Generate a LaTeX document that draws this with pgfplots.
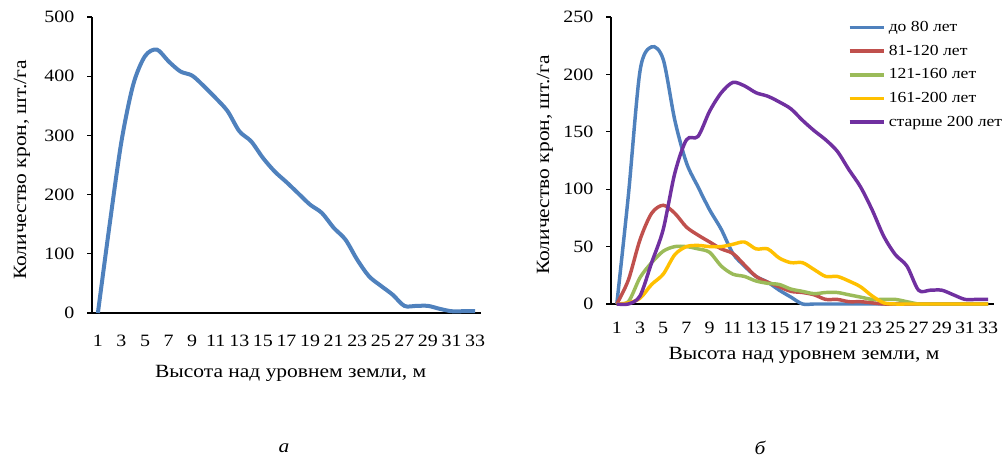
\documentclass[border=0pt]{standalone}
\usepackage{fontspec}
\setmainfont{Liberation Serif}[FakeStretch=1.15]
\usepackage{pgfplots}
\usepackage{pgfplotstable}
\pgfplotsset{compat=1.18}
\definecolor{cblue}{HTML}{4F81BD}
\definecolor{cred}{HTML}{C0504D}
\definecolor{cgreen}{HTML}{9BBB59}
\definecolor{cyellow}{HTML}{FFC000}
\definecolor{cpurple}{HTML}{7030A0}

\pgfplotstableread{
h v
1 0
2 150
3 290
4 386
5 434
6 445
7 425
8 408
9 401
10 383
11 363
12 341
13 307
14 290
15 262
16 239
17 221
18 202
19 183
20 169
21 144
22 124
23 90
24 62
25 46
26 31
27 12
28 12
29 12
30 7
31 3
32 3
33 3
}\lefttable

\pgfplotstableread{
h a b c d e
1 0 0 0 0 0
2 95 21 2 1 0
3 203 56 23 5 7
4 224 79 36 17 36
5 213 86 46 26 65
6 160 79 50 43 114
7 123 67 50 50 143
8 102 60 48 51 146
9 82 54 45 50 168
10 65 48 33 50 184
11 44 44 26 52 193
12 33 34 24 54 190
13 24 24 20 48 184
14 19 19 18 48 181
15 12 15 17 40 176
16 6 11 13 36 170
17 0 10 11 36 160
18 0 8 9 30 151
19 0 4 10 24 143
20 0 4 10 24 133
21 0 2 8 20 117
22 0 2 6 15 102
23 0 1 4 7 82
24 0 0 4 1 59
25 0 0 4 0 43
26 0 0 2 0 33
27 0 0 0 0 12
28 0 0 0 0 12
29 0 0 0 0 12
30 0 0 0 0 8
31 0 0 0 0 4
32 0 0 0 0 4
33 0 0 0 0 4
}\righttable

\pgfplotsset{myaxis/.style={
  scale only axis,
  axis x line*=bottom, axis y line*=left,
  axis line style={black, line width=0.8pt, -},
  xmin=0.5, xmax=33.5,
  xtick={1,3,...,33},
  minor xtick={0.5,1.5,...,33.5},
  xtick style={draw=none},
  minor tick style={black, line width=0.8pt},
  ytick style={black, line width=0.8pt},
  tick align=outside,
  major tick length=3.75pt,
  minor tick length=3.75pt,
  ymin=0,
  clip=false,
  /pgf/number format/assume math mode=true,
  tick label style={font=\fontsize{13}{15}\selectfont},
  every axis plot/.append style={smooth, tension=0.5, no marks},
}}

\begin{document}
\begin{tikzpicture}
\path (0,0) rectangle (756pt,344.25pt);

\begin{axis}[myaxis,
  at={(69pt,109.5pt)}, anchor=south west,
  width=291.75pt, height=222pt,
  ymax=500, ytick={0,100,...,500},
  yticklabel style={xshift=-6pt},
  xticklabel style={yshift=-9pt},
]
\addplot[cblue, line width=3pt] table[x=h, y=v] {\lefttable};
\end{axis}

\begin{axis}[myaxis,
  at={(458.25pt,116.25pt)}, anchor=south west,
  width=287.25pt, height=215.25pt,
  ymax=250, ytick={0,50,...,250},
  yticklabel style={xshift=-6pt},
  xticklabel style={yshift=-6pt},
  legend style={at={(0.618,0.995)}, anchor=north west, draw=none, fill=none,
    font=\fontsize{11.5}{13}\selectfont, row sep=4.6pt, inner sep=0pt,
    /tikz/every even column/.append style={column sep=0pt}},
  legend cell align=left,
  legend image code/.code={\draw[#1, line width=2.6pt] (0pt,0pt) -- (26pt,0pt);},
]
\addplot[cblue, line width=2.6pt] table[x=h, y=a] {\righttable};
\addlegendentry{до 80 лет}
\addplot[cred, line width=2.6pt] table[x=h, y=b] {\righttable};
\addlegendentry{81-120 лет}
\addplot[cgreen, line width=2.6pt] table[x=h, y=c] {\righttable};
\addlegendentry{121-160 лет}
\addplot[cyellow, line width=2.6pt] table[x=h, y=d] {\righttable};
\addlegendentry{161-200 лет}
\addplot[cpurple, line width=2.6pt] table[x=h, y=e] {\righttable};
\addlegendentry{старше 200 лет}
\end{axis}

\node[rotate=90, font=\fontsize{14}{16}\selectfont] at (16.5pt,216.75pt) {Количество крон, шт./га};
\node[rotate=90, font=\fontsize{14}{16}\selectfont] at (408.75pt,220.5pt) {Количество крон, шт./га};
\node[font=\fontsize{14}{16}\selectfont] at (218pt,64.5pt) {Высота над уровнем земли, м};
\node[font=\fontsize{14}{16}\selectfont] at (603pt,78pt) {Высота над уровнем земли, м};
\node[font=\fontsize{14}{16}\selectfont\itshape] at (213pt,8pt) {а};
\node[font=\fontsize{14}{16}\selectfont\itshape] at (570pt,8pt) {б};
\end{tikzpicture}
\end{document}
